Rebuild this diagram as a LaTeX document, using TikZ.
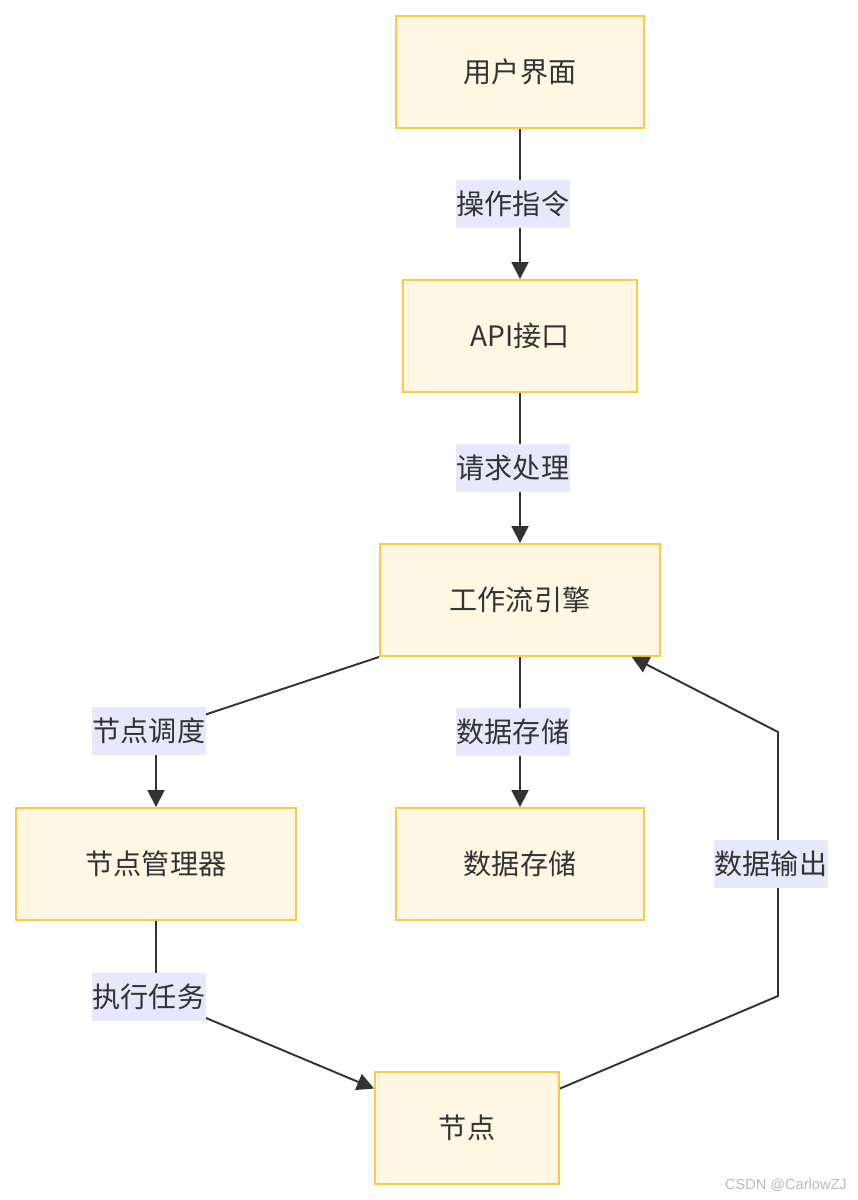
\documentclass[tikz,border=0pt]{standalone}
\usepackage{fontspec}
\newfontfamily\cjk{Noto Sans CJK SC}
\newfontfamily\wmfont{Liberation Sans}
\usetikzlibrary{arrows.meta}

\definecolor{boxfill}{HTML}{FFF7E4}
\definecolor{boxline}{HTML}{FCC845}
\definecolor{lblbg}{HTML}{E8E8FC}
\definecolor{ink}{HTML}{333333}

\begin{document}
\begin{tikzpicture}[
  x=0.02cm, y=-0.02cm,
  box/.style={
    draw=boxline, line width=1.1pt, fill=boxfill, text=ink,
    minimum height=2.24cm, font=\cjk\fontsize{16}{19}\selectfont,
  },
  lbl/.style={
    fill=lblbg, text=ink, inner xsep=0.6pt, inner ysep=0pt, xshift=-4pt,
    minimum height=0.96cm, font=\cjk\fontsize{16}{19}\selectfont,
  },
  arrow/.style={-{Triangle[length=0.34cm, width=0.34cm]}, line width=1.1pt, ink},
]
\useasboundingbox (0,0) rectangle (858,1200);

% Main column
\node[box, minimum width=4.96cm] (ui) at (520,72) {用户界面};
\node[box, minimum width=4.68cm] (api) at (520,336) {API接口};
\node[box, minimum width=5.6cm] (wf) at (520,600) {工作流引擎};

% Second row
\node[box, minimum width=5.6cm] (mgr) at (156,864) {节点管理器};
\node[box, minimum width=4.96cm] (store) at (520,864) {数据存储};

% Worker node
\node[box, minimum width=3.68cm] (nd) at (467,1128) {节点};

% Bend points
\coordinate (c1) at (156,731);
\coordinate (c2) at (156,997);
\coordinate (c3) at (778,996);
\coordinate (c4) at (778,732);

% Straight flow down
\draw[arrow] (ui) -- node[lbl] {操作指令} (api);
\draw[arrow] (api) -- node[lbl] {请求处理} (wf);
\draw[arrow] (wf) -- node[lbl] {数据存储} (store);

% Dispatch and execution
\draw[arrow] (wf.south west) -- (c1) node[lbl] {节点调度} -- (mgr);
\draw[arrow] (mgr) -- (c2) node[lbl] {执行任务} -- (nd.157);

% Output back to the engine
\draw[arrow] (nd.23) -- (c3) -- node[lbl] {数据输出} (c4) -- (wf.333);

% Watermark
\node[font=\wmfont\fontsize{8.3}{10}\selectfont, text=black!27, anchor=east] (wm) at (853,1185) {CSDN @CarlowZJ};

\end{tikzpicture}
\end{document}
